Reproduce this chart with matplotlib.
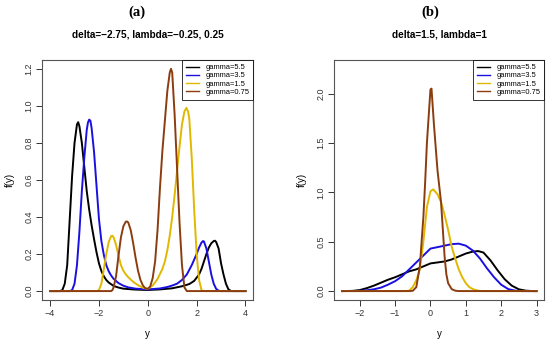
import matplotlib
matplotlib.use("Agg")
import matplotlib.pyplot as plt

# ---------------- data: panel (a) ----------------
labels = ["gamma=5.5", "gamma=3.5", "gamma=1.5", "gamma=0.75"]
colors = ["#000000", "#1a10e0", "#e0b800", "#8b3d10"]

a_x_g55 = [-4.0, -3.6, -3.5, -3.4, -3.3, -3.2, -3.1, -3.0, -2.9, -2.85, -2.8, -2.7, -2.6, -2.5, -2.4, -2.3,
           -2.2, -2.1, -2.0, -1.9, -1.8, -1.7, -1.6, -1.4, -1.2, -1.0, -0.5, 0.0, 0.5, 1.0, 1.4, 1.7, 1.9,
           2.1, 2.2, 2.3, 2.4, 2.5, 2.6, 2.7, 2.75, 2.8, 2.9, 3.0, 3.1, 3.2, 3.3, 3.4, 3.5, 4.0]
a_y_g55 = [0, 0, 0.005, 0.04, 0.14, 0.38, 0.62, 0.8, 0.9, 0.912, 0.89, 0.8, 0.67, 0.54, 0.44, 0.355,
           0.28, 0.21, 0.15, 0.108, 0.08, 0.06, 0.046, 0.028, 0.019, 0.013, 0.008, 0.006, 0.009, 0.015,
           0.026, 0.038, 0.055, 0.09, 0.12, 0.16, 0.2, 0.235, 0.258, 0.27, 0.272, 0.265, 0.23, 0.15, 0.09,
           0.04, 0.01, 0.001, 0, 0]

a_x_g35 = [-4.0, -3.2, -3.1, -3.0, -2.9, -2.8, -2.7, -2.6, -2.5, -2.45, -2.4, -2.35, -2.3, -2.2, -2.1, -2.0,
           -1.9, -1.8, -1.7, -1.6, -1.5, -1.4, -1.2, -1.0, -0.8, -0.5, 0.0, 0.5, 0.8, 1.0, 1.2, 1.4, 1.6,
           1.8, 2.0, 2.1, 2.2, 2.26, 2.3, 2.4, 2.5, 2.6, 2.7, 2.8, 2.9, 3.0, 4.0]
a_y_g35 = [0, 0, 0.005, 0.04, 0.14, 0.32, 0.54, 0.72, 0.87, 0.91, 0.926, 0.92, 0.88, 0.75, 0.57, 0.39,
           0.27, 0.195, 0.14, 0.107, 0.084, 0.066, 0.043, 0.029, 0.02, 0.013, 0.009, 0.014, 0.022, 0.03,
           0.04, 0.06, 0.09, 0.14, 0.2, 0.235, 0.262, 0.27, 0.268, 0.23, 0.16, 0.09, 0.04, 0.012, 0.002, 0, 0]

a_x_g15 = [-4.0, -2.1, -2.0, -1.9, -1.8, -1.7, -1.6, -1.5, -1.45, -1.4, -1.3, -1.2, -1.1, -1.0, -0.9, -0.8,
           -0.6, -0.4, -0.2, 0.0, 0.2, 0.4, 0.6, 0.7, 0.8, 0.9, 1.0, 1.1, 1.2, 1.3, 1.4, 1.5, 1.58, 1.65,
           1.7, 1.8, 1.9, 2.0, 2.1, 2.2, 2.3, 4.0]
a_y_g15 = [0, 0, 0.005, 0.04, 0.12, 0.2, 0.265, 0.297, 0.299, 0.29, 0.25, 0.19, 0.14, 0.11, 0.09, 0.075,
           0.05, 0.032, 0.018, 0.012, 0.03, 0.065, 0.12, 0.16, 0.22, 0.3, 0.4, 0.52, 0.65, 0.78, 0.9, 0.97,
           0.989, 0.97, 0.93, 0.72, 0.44, 0.2, 0.06, 0.005, 0, 0]

a_x_g075 = [-4.0, -1.5, -1.45, -1.4, -1.3, -1.2, -1.1, -1.0, -0.9, -0.85, -0.8, -0.7, -0.6, -0.5, -0.4, -0.3,
            -0.2, -0.1, 0.0, 0.1, 0.2, 0.3, 0.4, 0.5, 0.6, 0.7, 0.8, 0.9, 0.95, 1.0, 1.1, 1.2, 1.3, 1.4,
            1.5, 1.6, 4.0]
a_y_g075 = [0, 0, 0.005, 0.02, 0.08, 0.19, 0.29, 0.35, 0.375, 0.376, 0.37, 0.33, 0.26, 0.18, 0.11, 0.06,
            0.03, 0.015, 0.012, 0.025, 0.07, 0.16, 0.33, 0.56, 0.76, 0.92, 1.08, 1.18, 1.2, 1.18, 0.95, 0.66,
            0.37, 0.14, 0.02, 0, 0]

# ---------------- data: panel (b) ----------------
b_x_g55 = [-2.5, -2.2, -2.0, -1.8, -1.6, -1.4, -1.2, -1.0, -0.8, -0.6, -0.4, -0.2, 0.0, 0.2, 0.4, 0.6, 0.8,
           1.0, 1.2, 1.35, 1.5, 1.7, 1.9, 2.1, 2.3, 2.5, 2.7, 2.9, 3.0]
b_y_g55 = [0, 0.002, 0.01, 0.03, 0.055, 0.085, 0.115, 0.14, 0.17, 0.2, 0.22, 0.25, 0.28, 0.29, 0.3, 0.32,
           0.35, 0.38, 0.4, 0.405, 0.39, 0.31, 0.21, 0.12, 0.055, 0.018, 0.004, 0, 0]

b_x_g35 = [-2.5, -2.0, -1.8, -1.6, -1.4, -1.2, -1.0, -0.8, -0.6, -0.4, -0.2, 0.0, 0.2, 0.4, 0.6, 0.8, 1.0,
           1.2, 1.4, 1.6, 1.8, 2.0, 2.2, 2.4, 2.6, 3.0]
b_y_g35 = [0, 0.002, 0.008, 0.018, 0.035, 0.065, 0.1, 0.15, 0.22, 0.29, 0.36, 0.43, 0.445, 0.46, 0.475,
           0.48, 0.46, 0.41, 0.33, 0.23, 0.14, 0.065, 0.02, 0.004, 0, 0]

b_x_g15 = [-2.5, -0.7, -0.6, -0.5, -0.4, -0.3, -0.2, -0.1, 0.0, 0.08, 0.2, 0.3, 0.4, 0.5, 0.6, 0.7, 0.8,
           0.9, 1.0, 1.1, 1.2, 1.3, 1.4, 1.5, 3.0]
b_y_g15 = [0, 0, 0.005, 0.04, 0.11, 0.22, 0.5, 0.85, 1.01, 1.03, 0.98, 0.9, 0.77, 0.62, 0.45, 0.33, 0.22,
           0.14, 0.08, 0.04, 0.02, 0.008, 0.002, 0, 0]

b_x_g075 = [-2.5, -0.6, -0.5, -0.4, -0.3, -0.2, -0.15, -0.1, 0.0, 0.03, 0.1, 0.2, 0.3, 0.4, 0.45, 0.5,
            0.6, 0.7, 0.8, 3.0]
b_y_g075 = [0, 0, 0.003, 0.04, 0.25, 0.75, 1.1, 1.5, 2.04, 2.05, 1.68, 1.22, 0.9, 0.35, 0.17, 0.08,
            0.02, 0.004, 0, 0]

panel_a_series = [(a_x_g55, a_y_g55), (a_x_g35, a_y_g35), (a_x_g15, a_y_g15), (a_x_g075, a_y_g075)]
panel_b_series = [(b_x_g55, b_y_g55), (b_x_g35, b_y_g35), (b_x_g15, b_y_g15), (b_x_g075, b_y_g075)]

a_xticks = [-4, -2, 0, 2, 4]
a_yticks = [0.0, 0.2, 0.4, 0.6, 0.8, 1.0, 1.2]
b_xticks = [-2, -1, 0, 1, 2, 3]
b_yticks = [0.0, 0.5, 1.0, 1.5, 2.0]

plt.rcParams['font.family'] = ['Liberation Sans', 'DejaVu Sans']

fig = plt.figure(figsize=(5.5, 3.44), dpi=100)

def fmt_num(v, dec):
    s = f"{v:.{dec}f}" if dec else f"{int(v)}"
    return s.replace("-", "\u2212")

def draw_panel(rect, series, xlim, ylim, xticks, yticks, ydec, title, tag, tagx):
    ax = fig.add_axes(rect)
    for (xs, ys), c, lab in zip(series, colors, labels):
        ax.plot(xs, ys, color=c, lw=1.4, label=lab, solid_joinstyle='round')
    ax.set_xlim(*xlim)
    ax.set_ylim(*ylim)
    ax.set_xticks(xticks)
    ax.set_xticklabels([fmt_num(v, 0) for v in xticks])
    ax.set_yticks(yticks)
    ax.set_yticklabels([fmt_num(v, ydec) for v in yticks], rotation=90, va='center')
    ax.tick_params(direction='out', length=4, width=0.7, labelsize=6.5, colors='#333333', pad=2.5)
    for sp in ax.spines.values():
        sp.set_color('#555555')
        sp.set_linewidth(0.8)
    ax.set_xlabel('y', fontsize=7, labelpad=8)
    ax.set_ylabel('f(y)', fontsize=7, labelpad=7)
    ax.set_title(title, fontsize=7.2, fontweight='bold', pad=16)
    leg = ax.legend(loc='upper right', fontsize=5.4, frameon=True, fancybox=False,
                    borderaxespad=0, handlelength=1.7, handletextpad=0.8,
                    labelspacing=0.12, borderpad=0.55)
    for h in leg.get_lines():
        h.set_linewidth(1.0)
    leg.get_frame().set_edgecolor('#000000')
    leg.get_frame().set_linewidth(0.7)
    fig.text(tagx, 0.965, tag, ha='center', va='center', fontsize=10.5, fontweight='bold',
             family=['Liberation Serif', 'DejaVu Serif'])
    return ax

draw_panel([0.0769, 0.128, 0.3836, 0.6977], panel_a_series, (-4.32, 4.32), (-0.048, 1.248),
           a_xticks, a_yticks, 1, "delta=\u22122.75, lambda=\u22120.25, 0.25", "(a)", 0.2495)
draw_panel([0.6078, 0.128, 0.3818, 0.6977], panel_b_series, (-2.72, 3.22), (-0.09, 2.34),
           b_xticks, b_yticks, 1, "delta=1.5, lambda=1", "(b)", 0.783)

fig.savefig("out.png", dpi=100)
